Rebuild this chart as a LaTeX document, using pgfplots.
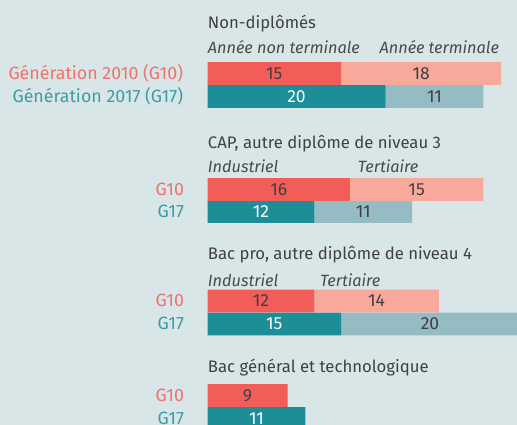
\documentclass[border=0pt]{standalone}
\usepackage{fontspec}
\setmainfont{Fira Sans}
\usepackage{pgfplots}
\pgfplotsset{compat=1.18}
\definecolor{bg}{HTML}{D8E6E7}
\definecolor{rdark}{HTML}{F25D59}
\definecolor{rlight}{HTML}{F9A99B}
\definecolor{tdark}{HTML}{1D8E97}
\definecolor{tlight}{HTML}{94BCC2}
\definecolor{rtext}{HTML}{F0716D}
\definecolor{ttext}{HTML}{3D9CA8}
\definecolor{txt}{HTML}{404040}
\definecolor{itxt}{HTML}{4A4A4A}
\begin{document}
\begin{tikzpicture}[
  every node/.style={inner sep=0pt, outer sep=0pt, font=\fontsize{16.7bp}{19bp}\selectfont},
  ttl/.style={anchor=base west, text=txt},
  sub/.style={anchor=base west, text=itxt, font=\fontsize{16.3bp}{19bp}\selectfont\itshape},
  lab/.style={anchor=base east, font=\fontsize{17.8bp}{19bp}\selectfont},
  num/.style={anchor=center, text=txt, font=\fontsize{17.5bp}{19bp}\selectfont},
  numw/.style={anchor=center, text=white, font=\fontsize{17.5bp}{19bp}\selectfont}]
\useasboundingbox (0,0) rectangle (517bp,425bp);
\fill[bg] (0,0) rectangle (517bp,425bp);
\begin{axis}[
  at={(0,0)}, anchor=south west,
  scale only axis, width=517bp, height=425bp,
  xmin=-23.315, xmax=34.775, ymin=0, ymax=425,
  axis lines=none, xtick=\empty, ytick=\empty, clip=true,
  xbar stacked, bar width=22.8,
  every axis plot/.append style={draw=none}]
% G10 dark
\addplot[fill=rdark] coordinates {(15,351.4) (0,328.6) (16,235.4) (0,213.4) (12,124) (0,101) (9,29.5) (0,6.5)};
% G10 light
\addplot[fill=rlight] coordinates {(18,351.4) (0,328.6) (15,235.4) (0,213.4) (14,124) (0,101) (0,29.5) (0,6.5)};
% G17 dark
\addplot[fill=tdark] coordinates {(0,351.4) (20,328.6) (0,235.4) (12,213.4) (0,124) (15,101) (0,29.5) (11,6.5)};
% G17 light
\addplot[fill=tlight] coordinates {(0,351.4) (11,328.6) (0,235.4) (11,213.4) (0,124) (20,101) (0,29.5) (0,6.5)};
% anchor points for texts
\coordinate (t1) at (axis cs:0.05,396);
\coordinate (s1a) at (axis cs:0.05,371);
\coordinate (s1b) at (axis cs:32.75,371);
\coordinate (t2) at (axis cs:0.05,276.7);
\coordinate (s2a) at (axis cs:0.05,252);
\coordinate (s2b) at (axis cs:16.9,252);
\coordinate (t3) at (axis cs:0.05,165.7);
\coordinate (s3a) at (axis cs:0.05,138.3);
\coordinate (s3b) at (axis cs:12.64,138.3);
\coordinate (t4) at (axis cs:0.05,52.3);
\coordinate (l1) at (axis cs:-2.75,345.4);
\coordinate (l2) at (axis cs:-2.75,322.6);
\coordinate (l3) at (axis cs:-2.64,229.4);
\coordinate (l4) at (axis cs:-2.64,207.4);
\coordinate (l5) at (axis cs:-2.64,118);
\coordinate (l6) at (axis cs:-2.64,95);
\coordinate (l7) at (axis cs:-2.64,23.5);
\coordinate (l8) at (axis cs:-2.64,0.5);
\coordinate (v1) at (axis cs:7.5,351.4);
\coordinate (v2) at (axis cs:24,351.4);
\coordinate (v3) at (axis cs:10,328.6);
\coordinate (v4) at (axis cs:25.5,328.6);
\coordinate (v5) at (axis cs:8,235.4);
\coordinate (v6) at (axis cs:23.5,235.4);
\coordinate (v7) at (axis cs:6,213.4);
\coordinate (v8) at (axis cs:17.5,213.4);
\coordinate (v9) at (axis cs:6,124);
\coordinate (v10) at (axis cs:19,124);
\coordinate (v11) at (axis cs:7.5,101);
\coordinate (v12) at (axis cs:25,101);
\coordinate (v13) at (axis cs:4.5,29.5);
\coordinate (v14) at (axis cs:5.5,6.5);
\end{axis}
% titles
\node[ttl] at (t1) {Non-diplômés};
\node[sub] at (s1a) {Année non terminale};
\node[sub,anchor=base east] at (s1b) {Année terminale};
\node[ttl] at (t2) {CAP, autre diplôme de niveau 3};
\node[sub] at (s2a) {Industriel};
\node[sub] at (s2b) {Tertiaire};
\node[ttl] at (t3) {Bac pro, autre diplôme de niveau 4};
\node[sub] at (s3a) {Industriel};
\node[sub] at (s3b) {Tertiaire};
\node[ttl] at (t4) {Bac général et technologique};
% left labels
\node[lab,text=rtext] at (l1) {Génération 2010 (G10)};
\node[lab,text=ttext] at (l2) {Génération 2017 (G17)};
\node[lab,text=rtext] at (l3) {G10};
\node[lab,text=ttext] at (l4) {G17};
\node[lab,text=rtext] at (l5) {G10};
\node[lab,text=ttext] at (l6) {G17};
\node[lab,text=rtext] at (l7) {G10};
\node[lab,text=ttext] at (l8) {G17};
% values
\node[num] at (v1) {15};
\node[num] at (v2) {18};
\node[numw] at (v3) {20};
\node[num] at (v4) {11};
\node[num] at (v5) {16};
\node[num] at (v6) {15};
\node[numw] at (v7) {12};
\node[num] at (v8) {11};
\node[num] at (v9) {12};
\node[num] at (v10) {14};
\node[numw] at (v11) {15};
\node[num] at (v12) {20};
\node[num] at (v13) {9};
\node[numw] at (v14) {11};
\end{tikzpicture}
\end{document}
